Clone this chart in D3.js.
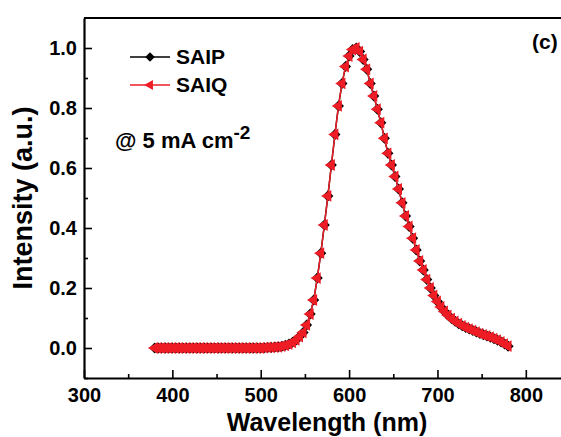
<!DOCTYPE html>
<html>
<head>
<meta charset="utf-8">
<script src="https://cdn.jsdelivr.net/npm/d3@7"></script>
<style>
  html, body { margin: 0; padding: 0; background: #fff; }
  svg { display: block; font-family: "Liberation Sans", Arial, sans-serif; font-weight: bold; }
</style>
</head>
<body>
<svg id="chart" width="561" height="437"></svg>
<script>
// Electroluminescence spectra, SAIP vs SAIQ at 5 mA cm^-2

const wavelengths = [
  380, 384, 388, 392, 396, 400, 404, 408, 412, 416, 420, 424, 428, 432, 436, 440, 444, 448, 452, 456,
  460, 464, 468, 472, 476, 480, 484, 488, 492, 496, 500, 504, 508, 512, 516, 520, 524, 528, 532, 536,
  540, 544, 548, 552, 556, 560, 564, 568, 572, 576, 580, 584, 588, 592, 596, 600, 604, 608, 612, 616,
  620, 624, 628, 632, 636, 640, 644, 648, 652, 656, 660, 664, 668, 672, 676, 680, 684, 688, 692, 696,
  700, 704, 708, 712, 716, 720, 724, 728, 732, 736, 740, 744, 748, 752, 756, 760, 764, 768, 772, 776,
  780
];

const saipValues = [
  0.000, 0.000, 0.000, 0.000, 0.000, 0.000, 0.000, 0.000, 0.000, 0.000, 0.000, 0.000, 0.000, 0.000, 0.000, 0.000, 0.000, 0.000, 0.000, 0.000,
  0.000, 0.000, 0.000, 0.000, 0.000, 0.000, 0.000, 0.000, 0.000, 0.000, 0.000, 0.001, 0.002, 0.002, 0.003, 0.004, 0.006, 0.009, 0.013, 0.019,
  0.027, 0.038, 0.052, 0.077, 0.113, 0.160, 0.233, 0.316, 0.410, 0.507, 0.610, 0.712, 0.807, 0.882, 0.938, 0.973, 0.995, 1.000, 0.988, 0.962,
  0.929, 0.882, 0.840, 0.796, 0.751, 0.699, 0.649, 0.610, 0.572, 0.530, 0.484, 0.440, 0.405, 0.366, 0.327, 0.290, 0.260, 0.228, 0.200, 0.175,
  0.155, 0.137, 0.122, 0.109, 0.098, 0.089, 0.081, 0.074, 0.068, 0.063, 0.058, 0.053, 0.048, 0.044, 0.040, 0.036, 0.031, 0.026, 0.020, 0.013,
  0.006
];

const saiqValues = [
  0.000, 0.000, 0.000, 0.000, 0.000, 0.000, 0.000, 0.000, 0.000, 0.000, 0.000, 0.000, 0.000, 0.000, 0.000, 0.000, 0.000, 0.000, 0.000, 0.000,
  0.000, 0.000, 0.000, 0.000, 0.000, 0.000, 0.000, 0.000, 0.000, 0.000, 0.000, 0.001, 0.002, 0.002, 0.003, 0.004, 0.006, 0.009, 0.013, 0.019,
  0.027, 0.038, 0.052, 0.077, 0.113, 0.160, 0.233, 0.316, 0.410, 0.507, 0.610, 0.712, 0.807, 0.882, 0.938, 0.973, 0.995, 1.000, 0.988, 0.962,
  0.929, 0.882, 0.840, 0.796, 0.751, 0.699, 0.649, 0.610, 0.572, 0.530, 0.484, 0.440, 0.405, 0.366, 0.327, 0.290, 0.260, 0.228, 0.200, 0.175,
  0.155, 0.137, 0.122, 0.109, 0.098, 0.089, 0.081, 0.074, 0.068, 0.063, 0.058, 0.053, 0.048, 0.044, 0.040, 0.036, 0.031, 0.026, 0.020, 0.013,
  0.006
];

const xTicksMajor = [300, 400, 500, 600, 700, 800];
const xTicksMinor = [350, 450, 550, 650, 750];
const yTicksMajor = [0.0, 0.2, 0.4, 0.6, 0.8, 1.0];
const yTicksMinor = [-0.1, 0.1, 0.3, 0.5, 0.7, 0.9];

const RED = '#ee1c25';
const W = 561, H = 437;
const MARGIN = { top: 18, right: -9, bottom: 59, left: 84 };

const svg = d3.select('#chart');

const x = d3.scaleLinear().domain([300, 850]).range([MARGIN.left, W - MARGIN.right]);
const y = d3.scaleLinear().domain([-0.1, 1.1]).range([H - MARGIN.bottom, MARGIN.top]);

// ---- axes (ticks point inward) ----
svg.append('g')
  .attr('transform', `translate(0,${y.range()[0]})`)
  .call(d3.axisBottom(x).tickValues(xTicksMajor).tickSize(-8).tickSizeOuter(0).tickPadding(10).tickFormat(d3.format('d')));
svg.append('g')
  .attr('transform', `translate(0,${y.range()[0]})`)
  .call(d3.axisBottom(x).tickValues(xTicksMinor).tickSize(-4).tickSizeOuter(0).tickFormat(''))
  .call(g => g.select('.domain').remove());

svg.append('g')
  .attr('transform', `translate(${x.range()[0]},0)`)
  .call(d3.axisLeft(y).tickValues(yTicksMajor).tickSize(-8).tickSizeOuter(0).tickPadding(7).tickFormat(d3.format('.1f')));
svg.append('g')
  .attr('transform', `translate(${x.range()[0]},0)`)
  .call(d3.axisLeft(y).tickValues(yTicksMinor).tickSize(-4).tickSizeOuter(0).tickFormat(''))
  .call(g => g.select('.domain').remove());

svg.selectAll('.tick line').attr('stroke', '#000').attr('stroke-width', 1.6);
svg.selectAll('.domain').attr('stroke', '#000').attr('stroke-width', 2.2);
svg.selectAll('.tick text')
  .attr('fill', '#000')
  .style('font-family', '"Liberation Sans", Arial, sans-serif')
  .style('font-weight', 'bold')
  .style('font-size', '20px');

// top frame line
svg.append('line')
  .attr('x1', x.range()[0]).attr('x2', x.range()[1])
  .attr('y1', y.range()[1]).attr('y2', y.range()[1])
  .attr('stroke', '#000').attr('stroke-width', 2.2);

// ---- axis titles ----
svg.append('text')
  .attr('x', (x.range()[0] + x.range()[1]) / 2)
  .attr('y', 431)
  .attr('text-anchor', 'middle')
  .style('font-size', '25px')
  .text('Wavelength (nm)');

svg.append('text')
  .attr('transform', `translate(32,${(y.range()[0] + y.range()[1]) / 2}) rotate(-90)`)
  .attr('text-anchor', 'middle')
  .style('font-size', '27px')
  .text('Intensity (a.u.)');

// ---- series ----
const diamond = d3.symbol(d3.symbolSquare, 60);
const triangle = d3.symbol(d3.symbolTriangle, 60);

const lineGen = vals => d3.line()
  .x((d, i) => x(wavelengths[i]))
  .y(d => y(d))(vals);

svg.append('path')
  .attr('d', lineGen(saipValues))
  .attr('fill', 'none')
  .attr('stroke', '#000')
  .attr('stroke-width', 1.5);

svg.append('g').selectAll('path')
  .data(saipValues)
  .join('path')
  .attr('transform', (d, i) => `translate(${x(wavelengths[i])},${y(d)}) rotate(45)`)
  .attr('d', diamond)
  .attr('fill', '#000');

svg.append('path')
  .attr('d', lineGen(saiqValues))
  .attr('fill', 'none')
  .attr('stroke', RED)
  .attr('stroke-width', 1.5);

svg.append('g').selectAll('path')
  .data(saiqValues)
  .join('path')
  .attr('transform', (d, i) => `translate(${x(wavelengths[i])},${y(d)}) rotate(-90)`)
  .attr('d', triangle)
  .attr('fill', RED);

// ---- legend ----
const legend = svg.append('g');
const legendItems = [
  { name: 'SAIP', color: '#000', sym: diamond, rot: 45, y: 57 },
  { name: 'SAIQ', color: RED, sym: triangle, rot: -90, y: 85 }
];
legendItems.forEach(it => {
  legend.append('line')
    .attr('x1', 130).attr('x2', 170)
    .attr('y1', it.y).attr('y2', it.y)
    .attr('stroke', it.color).attr('stroke-width', 1.5);
  legend.append('path')
    .attr('transform', `translate(150,${it.y}) rotate(${it.rot})`)
    .attr('d', it.sym.size(45)())
    .attr('fill', it.color);
  legend.append('text')
    .attr('x', 176).attr('y', it.y + 7)
    .style('font-size', '21px')
    .text(it.name);
});

// current density note
const note = svg.append('text')
  .attr('x', 115).attr('y', 148)
  .style('font-size', '22px');
note.append('tspan').text('@ 5 mA cm');
note.append('tspan').attr('dy', -9).style('font-size', '19px').text('-2');

// panel label
svg.append('text')
  .attr('x', 532).attr('y', 49)
  .style('font-size', '21px')
  .text('(c)');
</script>
</body>
</html>
